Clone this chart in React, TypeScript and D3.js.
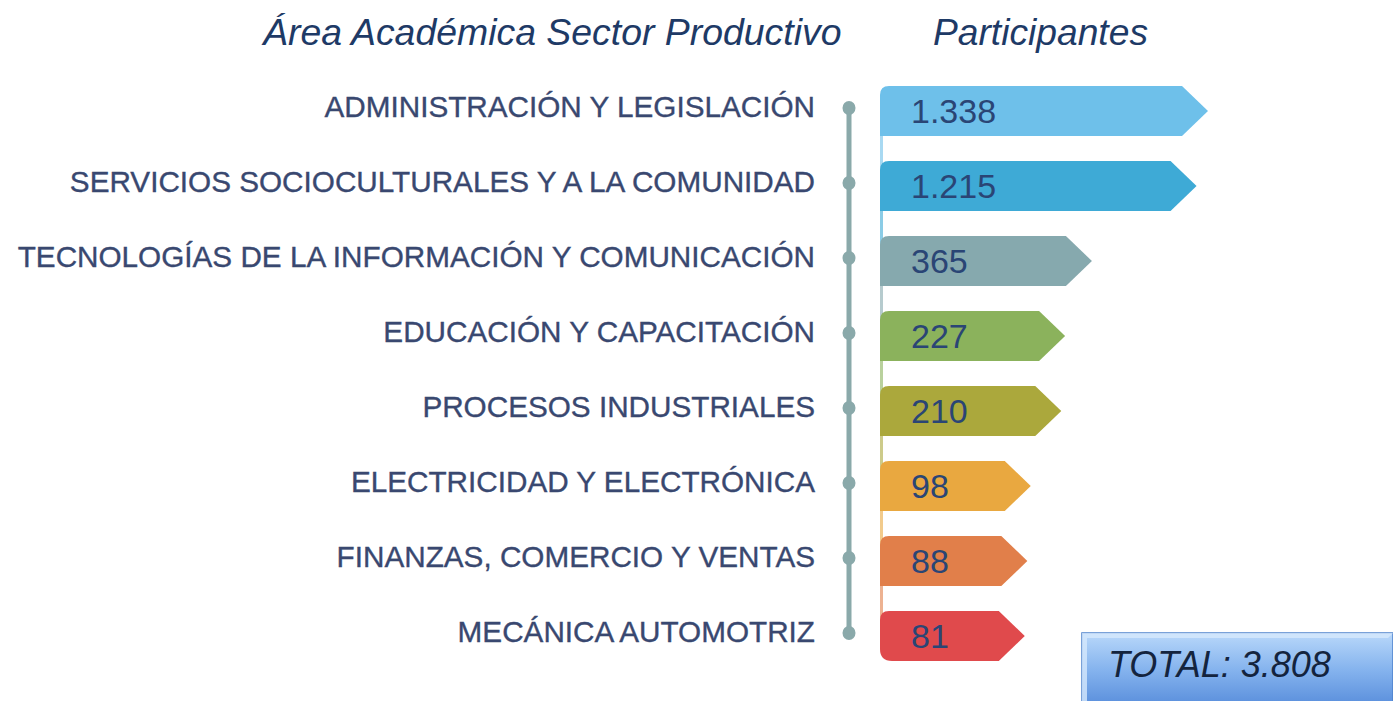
import React from "react";
import * as d3 from "d3";

const categories = [
  "ADMINISTRACIÓN Y LEGISLACIÓN",
  "SERVICIOS SOCIOCULTURALES Y A LA COMUNIDAD",
  "TECNOLOGÍAS DE LA INFORMACIÓN Y COMUNICACIÓN",
  "EDUCACIÓN Y CAPACITACIÓN",
  "PROCESOS INDUSTRIALES",
  "ELECTRICIDAD Y ELECTRÓNICA",
  "FINANZAS, COMERCIO Y VENTAS",
  "MECÁNICA AUTOMOTRIZ",
];
const values = [1338, 1215, 365, 227, 210, 98, 88, 81];
const valueLabels = ["1.338", "1.215", "365", "227", "210", "98", "88", "81"];
const colors = ["#6ec0ea", "#3eaad6", "#86a9ae", "#8bb25c", "#aba83c", "#e9a840", "#e17f4a", "#e04a4c"];
const titleLeft = "Área Académica Sector Productivo";
const titleRight = "Participantes";
const totalLabel = "TOTAL: 3.808";

const W = 1393;
const H = 701;
const X0 = 880;

export default function App() {
  const y = d3
    .scaleBand<string>()
    .domain(categories)
    .range([73.5, 673.5])
    .paddingInner(1 / 3)
    .paddingOuter(1 / 6);
  const len = d3.scaleSqrt().domain([0, d3.max(values) as number]).range([85, 328]);
  const bw = y.bandwidth();
  const head = 26;

  const barPath = (i: number) => {
    const top = y(categories[i]) as number;
    const bottom = top + bw;
    const cy = top + bw / 2;
    const tip = X0 + len(values[i]);
    const flat = tip - head;
    const r = 9;
    const last = i === categories.length - 1;
    const p = d3.path();
    p.moveTo(X0, top + r);
    p.quadraticCurveTo(X0, top, X0 + r, top);
    p.lineTo(flat, top);
    p.lineTo(tip, cy);
    p.lineTo(flat, bottom);
    if (last) {
      p.lineTo(X0 + 12, bottom);
      p.quadraticCurveTo(X0, bottom, X0, bottom - 12);
    } else {
      p.lineTo(X0, bottom);
    }
    p.closePath();
    return p.toString();
  };

  const firstC = (y(categories[0]) as number) + bw / 2;
  const lastC = (y(categories[categories.length - 1]) as number) + bw / 2;

  return (
    <svg width={W} height={H} style={{ position: "absolute", left: 0, top: 0, background: "#fff" }}>
      <defs>
        <linearGradient id="tot" x1="0" y1="0" x2="0" y2="1">
          <stop offset="0" stopColor="#b9d8fa" />
          <stop offset="0.5" stopColor="#86b4ee" />
          <stop offset="1" stopColor="#5a8fdc" />
        </linearGradient>
      </defs>
      <text x={263} y={45} fontFamily="Liberation Sans, Arial, sans-serif" fontStyle="italic" fontSize={37.4} fill="#1e3a66">
        {titleLeft}
      </text>
      <text x={933} y={45} fontFamily="Liberation Sans, Arial, sans-serif" fontStyle="italic" fontSize={37.2} fill="#1e3a66">
        {titleRight}
      </text>

      {/* timeline */}
      <line x1={849} x2={849} y1={firstC - 6} y2={lastC - 2} stroke="#8aa9aa" strokeWidth={5} />
      {categories.map((c) => (
        <ellipse key={"d" + c} cx={849} cy={(y(c) as number) + bw / 2 - 3} rx={6.5} ry={7} fill="#8aa9aa" />
      ))}

      {/* connecting strips */}
      {categories.slice(0, -1).map((c, i) => {
        const b = (y(c) as number) + bw;
        const nt = y(categories[i + 1]) as number;
        return <rect key={"s" + c} x={X0} y={b - 1} width={3} height={nt - b + 10} fill={colors[i]} opacity={0.6} />;
      })}

      {categories.map((c, i) => (
        <path key={"b" + c} d={barPath(i)} fill={colors[i]} />
      ))}

      {categories.map((c, i) => (
        <text
          key={"v" + c}
          x={911}
          y={(y(c) as number) + bw / 2 + 12}
          fontFamily="Liberation Sans, Arial, sans-serif"
          fontSize={34}
          fill="#2a4575"
        >
          {valueLabels[i]}
        </text>
      ))}

      {categories.map((c) => (
        <text
          key={"l" + c}
          x={815}
          y={(y(c) as number) + bw / 2 + 6}
          textAnchor="end"
          fontFamily="Liberation Sans, Arial, sans-serif"
          fontSize={29.7}
          fill="#394870"
          stroke="#394870"
          strokeWidth={0.35}
        >
          {c}
        </text>
      ))}

      {/* total box */}
      <rect x={1082} y={633} width={311} height={72} fill="url(#tot)" stroke="#4e82cc" strokeWidth={1.5} />
      <path d="M1082,633 L1393,633 L1388,638 L1087,638 L1087,701 L1082,701 Z" fill="#d6e8fc" opacity={0.8} />
      <text x={1108} y={677} fontFamily="Liberation Sans, Arial, sans-serif" fontStyle="italic" fontSize={36} fill="#14243e">
        {totalLabel}
      </text>
    </svg>
  );
}
